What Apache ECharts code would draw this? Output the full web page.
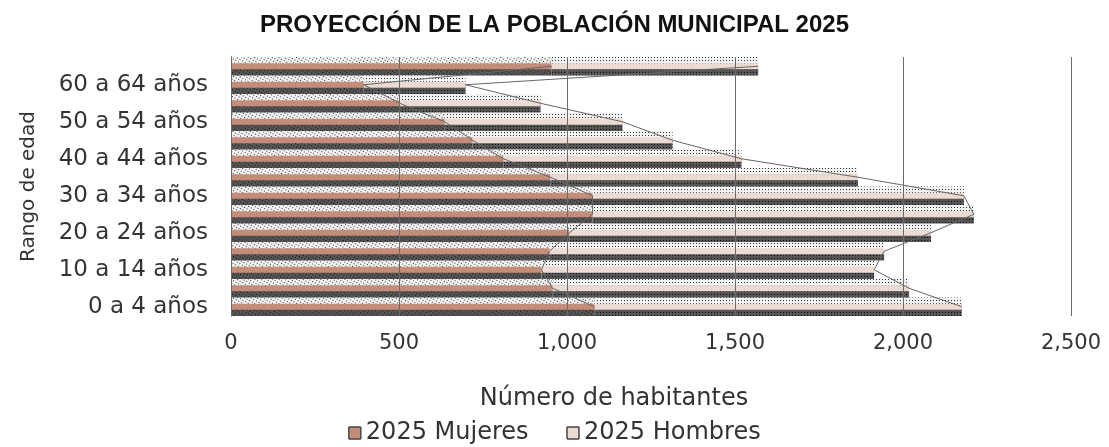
<!DOCTYPE html>
<html>
<head>
<meta charset="utf-8">
<script src="https://cdn.jsdelivr.net/npm/echarts@6/dist/echarts.min.js"></script>
<style>
  html, body { margin: 0; padding: 0; background: #fff; }
  #chart { width: 1109px; height: 447px; }
</style>
</head>
<body>
<div id="chart"></div>
<script>
// datos (de abajo hacia arriba)
var categorias = ['0 a 4 años', '5 a 9 años', '10 a 14 años', '15 a 19 años', '20 a 24 años',
  '25 a 29 años', '30 a 34 años', '35 a 39 años', '40 a 44 años', '45 a 49 años',
  '50 a 54 años', '55 a 59 años', '60 a 64 años', '65 años y más'];
var mujeres = [1082, 957, 924, 948, 1007, 1076, 1076, 951, 811, 719, 636, 502, 395, 954];
var hombres = [1093, 1061, 990, 996, 1076, 1135, 1105, 915, 708, 595, 529, 419, 303, 615];
var ticksX = [0, 500, 1000, 1500, 2000, 2500];

var myChart = echarts.init(document.getElementById('chart'));

var fuente = 'DejaVu Sans';
// textura punteada bajo cada barra
var textura = {
  color: new echarts.graphic.LinearGradient(0, 0, 0, 1, [
    { offset: 0, color: '#f3f3f3' },
    { offset: 0.46, color: '#f3f3f3' },
    { offset: 0.46, color: '#555555' },
    { offset: 1, color: '#555555' }
  ]),
  decal: {
    symbol: 'rect',
    symbolSize: 1,
    color: 'rgba(0,0,0,0.8)',
    dashArrayX: [1, 2],
    dashArrayY: [1, 2]
  }
};

myChart.setOption({
  aria: { enabled: true, decal: { show: true } },
  animation: false,
  title: {
    text: 'PROYECCIÓN DE LA POBLACIÓN MUNICIPAL 2025',
    left: 'center',
    top: 8,
    textStyle: {
      fontFamily: 'Liberation Sans',
      fontWeight: 'bold',
      fontSize: 24,
      color: '#111'
    }
  },
  legend: {
    data: ['2025 Mujeres', '2025 Hombres'],
    top: 421,
    left: 'center',
    padding: 0,
    itemWidth: 12,
    itemHeight: 12,
    itemGap: 38,
    icon: 'rect',
    itemStyle: { borderColor: '#444', borderWidth: 1 },
    textStyle: { fontFamily: fuente, fontSize: 24, color: '#333' }
  },
  grid: { left: 231, right: 38, top: 57, bottom: 131 },
  xAxis: {
    type: 'value',
    z: 5,
    min: ticksX[0],
    max: ticksX[ticksX.length - 1],
    interval: 500,
    name: 'Número de habitantes',
    nameLocation: 'middle',
    nameGap: 71,
    nameTextStyle: { fontFamily: fuente, fontSize: 24, color: '#333', padding: [0, 74, 0, 0] },
    axisLine: { show: false },
    axisTick: { show: false },
    axisLabel: {
      fontFamily: fuente, fontSize: 21, color: '#333', margin: 17,
      formatter: function (v) { return String(v).replace(/\B(?=(\d{3})+(?!\d))/g, ','); }
    },
    splitLine: { lineStyle: { color: '#6a6a6a', width: 1 } }
  },
  yAxis: [
    {
      type: 'category',
      data: categorias,
      name: 'Rango de edad',
      nameLocation: 'middle',
      nameGap: 192,
      nameTextStyle: { fontFamily: fuente, fontSize: 20, color: '#333' },
      axisLine: { show: true, lineStyle: { color: '#222' } },
      axisTick: { show: false },
      axisLabel: { interval: 1, fontFamily: fuente, fontSize: 23, color: '#333', margin: 23 }
    },
    {
      type: 'category',
      data: categorias,
      show: false
    }
  ],
  series: [
    { name: 'sombraM', type: 'bar', yAxisIndex: 1, stack: 'sombra', barWidth: '100%', data: mujeres, itemStyle: textura, z: 1, silent: true },
    { name: 'sombraH', type: 'bar', yAxisIndex: 1, stack: 'sombra', barWidth: '100%', data: hombres, itemStyle: textura, z: 1, silent: true },
    {
      name: '2025 Mujeres', type: 'bar', stack: 'total', barWidth: 6, data: mujeres, z: 3,
      itemStyle: { color: '#c38d7a', decal: { symbol: 'none' } }
    },
    {
      name: '2025 Hombres', type: 'bar', stack: 'total', barWidth: 6, data: hombres, z: 3,
      itemStyle: { color: '#ecdbd3', decal: { symbol: 'none' } }
    },
    // líneas de serie
    {
      name: 'lineaM', type: 'line', stack: 'lineas', data: mujeres, symbol: 'none', z: 4,
      lineStyle: { color: '#666', width: 1 }
    },
    {
      name: 'lineaH', type: 'line', stack: 'lineas', data: hombres, symbol: 'none', z: 4,
      lineStyle: { color: '#666', width: 1 }
    }
  ]
});
</script>
</body>
</html>
